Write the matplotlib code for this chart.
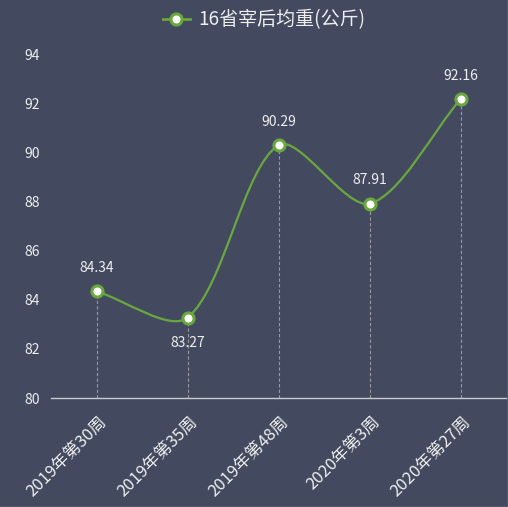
import matplotlib
matplotlib.use("Agg")
import matplotlib.pyplot as plt
import matplotlib.transforms as mtransforms
from matplotlib.path import Path
from matplotlib.patches import PathPatch
from matplotlib.lines import Line2D
import numpy as np

plt.rcParams['font.family'] = ['Noto Sans CJK SC', 'DejaVu Sans']

weeks = ['2019年第30周', '2019年第35周', '2019年第48周', '2020年第3周', '2020年第27周']
weights = [84.34, 83.27, 90.29, 87.91, 92.16]
label_below = [False, True, False, False, False]
series_name = '16省宰后均重(公斤)'

BG = '#434a5f'
GREEN = '#6aa73f'
TXT = '#eeeeee'


def smooth_path(ax, xs, ys, smooth=0.3):
    # bezier smoothing like echarts, done in pixel space
    pts = ax.transData.transform(np.column_stack([xs, ys]))
    n = len(pts)
    cps_out, cps_in = [], []
    for i in range(n):
        prev = pts[i - 1] if i > 0 else pts[i]
        nxt = pts[i + 1] if i < n - 1 else pts[i]
        v = nxt - prev
        l0 = np.hypot(*(pts[i] - prev))
        l1 = np.hypot(*(nxt - pts[i]))
        r = l1 / (l0 + l1) if (l0 + l1) > 0 else 0.5
        cps_out.append(pts[i] + v * smooth * r)
        cps_in.append(pts[i] - v * smooth * (1 - r))
    verts = [pts[0]]
    codes = [Path.MOVETO]
    for i in range(n - 1):
        verts += [cps_out[i], cps_in[i + 1], pts[i + 1]]
        codes += [Path.CURVE4] * 3
    verts = ax.transData.inverted().transform(np.array(verts))
    return Path(verts, codes)


fig = plt.figure(figsize=(5.08, 5.07), dpi=100)
fig.patch.set_facecolor(BG)
ax = fig.add_axes([51 / 508, 109 / 507, 455 / 508, 344 / 507])
ax.set_facecolor(BG)

x = np.arange(len(weeks))
ax.set_xlim(-0.5, len(weeks) - 0.5)
ax.set_ylim(80, 94)

# dashed drop lines
for xi, yi in zip(x, weights):
    ax.plot([xi, xi], [80, yi], ls=(0, (3, 2)), color='#9a9a9a', lw=0.8, zorder=1)

ax.add_patch(PathPatch(smooth_path(ax, x, weights), facecolor='none',
                       edgecolor=GREEN, lw=1.6, zorder=2))
ax.plot(x, weights, ls='none', marker='o', ms=8, mfc='white', mec=GREEN, mew=2.2, zorder=3)

for xi, yi, below in zip(x, weights, label_below):
    ax.annotate(f'{yi:.2f}', (xi, yi), xytext=(0, -18 if below else 17),
                textcoords='offset points', ha='center', va='center',
                color=TXT, fontsize=10)

ax.set_yticks(np.arange(80, 95, 2))
ax.set_xticks(x)
ax.set_xticklabels(weeks, rotation=45, ha='right', va='top', rotation_mode='anchor',
                   fontsize=12, color=TXT)
ax.tick_params(axis='x', length=0, pad=11)
ax.tick_params(axis='y', length=0, pad=8, labelsize=10, labelcolor=TXT)
shift = mtransforms.ScaledTranslation(2 / 100, 0, fig.dpi_scale_trans)
for t in ax.get_xticklabels():
    t.set_transform(t.get_transform() + shift)

for s in ['top', 'right', 'left']:
    ax.spines[s].set_visible(False)
ax.spines['bottom'].set_color('#cccccc')
ax.spines['bottom'].set_linewidth(1)

handle = Line2D([], [], color=GREEN, lw=2, marker='o', ms=8, mfc='white', mec=GREEN, mew=2.2)
fig.legend([handle], [series_name], loc='center', bbox_to_anchor=(264 / 508, 1 - 20 / 507),
           frameon=False, fontsize=13.7, labelcolor=TXT, handlelength=1.4,
           handletextpad=0.45, borderpad=0)

# thin light frame on the right and bottom edges
fig.add_artist(Line2D([507.5 / 508, 507.5 / 508], [0, 1], transform=fig.transFigure,
                      color='#c8c8c8', lw=0.9))
fig.add_artist(Line2D([0, 1], [0.5 / 507, 0.5 / 507], transform=fig.transFigure,
                      color='#c8c8c8', lw=0.9))

fig.savefig('out.png', dpi=100, facecolor=BG)
